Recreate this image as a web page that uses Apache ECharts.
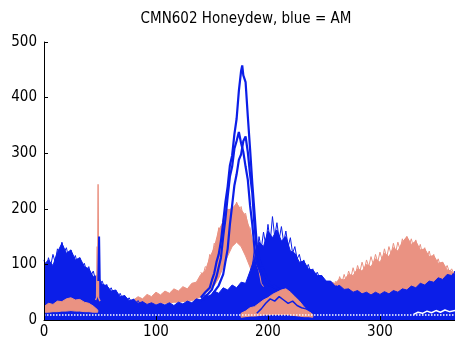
<!DOCTYPE html>
<html>
<head>
<meta charset="utf-8">
<script src="https://cdn.jsdelivr.net/npm/echarts@6/dist/echarts.min.js"></script>
<style>html,body{margin:0;padding:0;background:#fff}#c{width:455px;height:341px}</style>
</head>
<body>
<div id="c"></div>
<script>
// ---------- data ----------
const titleText = 'CMN602 Honeydew, blue = AM';
const xTicks = [0, 100, 200, 300];
const yTicks = [0, 100, 200, 300, 400, 500];

// Blue (AM) dense band: upper envelope, from 0
const blueX = [0,4,8,12,16,20,24,28,32,36,40,44,48,52,56,60,64,68,72,76,80,84,88,92,96,100,104,108,112,116,120,124,128,132,136,140,144,148,152,156,160,164,168,172,176,180,184,188,192,196,200,204,208,212,216,220,224,228,232,236,240,244,248,252,256,260,264,268,272,276,280,284,288,292,296,300,304,308,312,316,320,324,328,332,336,340,344,348,352,356,360,364,367];
const blueTop = [100,108,98,122,138,120,126,108,112,96,92,78,80,64,62,52,54,42,44,35,37,30,33,28,31,27,30,27,31,26,32,29,34,31,38,36,45,42,52,48,58,54,63,58,68,66,88,112,140,132,160,148,162,142,150,124,120,104,106,92,90,80,80,70,70,61,62,55,56,50,53,47,50,45,50,46,51,47,53,50,56,54,61,58,66,63,70,68,76,73,82,80,88];

// Blue noisy spikes along the top of the band
const blueSpikeLX = [0,2,4,6,8,10,12,14,16,18,20,22,24,26,28,30,32,34,36,38,40,42,44,46,48,50,52,54,56,58,60,62,64,66,68,70,72,74,76,78,80,82,84,86,88,90];
const blueSpikeLY = [108,92,112,98,118,104,128,118,140,122,130,112,126,106,116,100,112,94,102,88,96,80,88,72,80,66,70,58,64,52,58,48,54,42,48,38,44,34,40,32,38,30,35,28,33,27];
const blueSpikeHX = [186,188,190,192,194,196,198,200,202,204,206,208,210,212,214,216,218,220,222,224,226,228,230,232,234,236,238,240,242,244,246,248,250];
const blueSpikeHY = [95,130,115,150,128,158,135,172,140,186,150,175,145,168,140,160,132,148,120,132,110,118,100,108,92,100,86,92,80,86,76,80,70];

// Salmon (PM) main band
const salmonX = [80,84,88,92,96,100,104,108,112,116,120,124,128,132,136,140,144,148,152,156,160,164,168,172,176,180,184,188,192,196,200,204,208,212,216,220,224,228,232,236,240,244,248,252,256,260,264,268,272,276,280,284,288,292,296,300,304,308,312,316,320,324,328,332,336,340,344,348,352,356,360,364,367];
const salmonTop = [36,42,38,46,42,50,45,52,48,56,52,60,56,66,68,82,88,112,130,162,176,198,200,210,198,188,160,125,82,58,50,52,55,52,56,54,58,56,60,58,62,60,64,62,68,66,74,72,82,80,92,88,100,96,110,104,120,114,130,124,140,150,136,142,126,128,114,116,102,104,90,88,80];
const salmonLow = [25,26,27,28,28,29,30,30,30,32,32,33,34,35,38,42,48,55,62,75,95,115,132,140,132,115,95,70,45,30,20,30,30,30,30,30,30,30,30,30,30,30,30,30,30,30,30,30,30,30,30,30,30,30,30,30,30,30,30,30,30,30,30,30,30,30,30,30,30,30,30,30,30];

// Salmon noisy spikes
const salSpikePX = [140,142,144,146,148,150,152,154,156,158,160,162,164,166,168,170,172,174,176,178,180,182,184,186,188,190,192,194,196];
const salSpikePY = [86,80,96,92,118,112,138,132,166,160,182,176,200,192,206,198,212,200,204,186,192,170,166,140,130,100,88,66,60];
const salSpikeRX = [260,262,264,266,268,270,272,274,276,278,280,282,284,286,288,290,292,294,296,298,300,302,304,306,308,310,312,314,316,318,320,322,324,326,328,330,332,334,336,338,340,342,344,346,348,350,352,354,356,358,360,362,364,366];
const salSpikeRY = [70,62,78,66,82,70,88,76,94,80,98,86,104,90,108,96,114,100,118,104,122,108,128,112,132,118,138,122,140,126,146,130,150,134,146,130,144,124,136,118,130,112,124,106,118,100,110,96,104,90,98,86,92,84];

// Salmon low hump on the left
const s1X = [0,4,8,12,16,20,24,28,32,36,40,44,48];
const s1Top = [24,30,28,34,33,38,40,36,37,32,30,25,18];
const s1Low = [14,14,15,15,16,16,17,16,16,15,15,14,14];

// Salmon low hump under the second blue hump
const s3X = [176,180,184,188,192,196,200,204,208,212,216,220,224,228,232,236,240];
const s3Top = [12,16,22,24,30,36,40,46,50,54,56,50,42,34,24,16,10];
const s3Low = [5,6,7,7,8,9,10,10,10,10,10,9,8,7,6,6,5];

// Blue low line over that hump
const blueLowX = [190,194,198,202,206,210,214,218,222,226,230,234,238,242,246,250,254,258];
const blueLowY = [12,20,30,38,34,42,36,30,34,26,22,20,16,14,12,10,8,8];

// Tall blue (AM) peaks
const p1X = [140,144,148,150,152,154,156,158,160,162,164,166,168,170,172,174,176,177,178,180,182,184,186,188,190,192,194,196,198,200,204,210];
const p1Y = [40,50,58,72,84,104,118,142,176,212,240,278,296,334,362,412,448,458,440,428,366,308,246,192,136,112,100,92,80,72,60,55];
const p2X = [140,146,150,154,158,160,162,164,166,168,170,172,174,176,178,180,182,184,186,188,190,194,200,210];
const p2Y = [35,46,55,78,112,150,182,222,258,276,308,322,338,318,302,276,252,206,172,128,102,82,64,55];
const p3X = [140,150,156,160,164,166,168,170,172,174,176,178,180,182,184,186,188,190,194,200,210];
const p3Y = [35,45,62,82,128,172,206,242,262,288,298,322,330,302,262,228,168,124,96,70,55];

// Narrow spikes near x = 48
const spikeRX = [46,47,47.5,48,48.3,48.7,50];
const spikeRY = [36,40,132,42,244,40,34];
const spikeBX = [48.5,49.2,49.8];
const spikeBY = [70,150,70];

// White gaps near the bottom
const white1X = [0,367];
const white1Y = [9,9];
const white2X = [330,334,338,342,346,350,354,358,362,367];
const white2Y = [10,14,12,16,13,17,14,18,15,17];

// ---------- styling ----------
const BLUE = '#0b1ee8';
const SALMON = '#ea9282';
const FONT = "'Liberation Sans Narrow','Arial Narrow','DejaVu Sans Condensed',sans-serif";

const pairs = (xs, ys) => xs.map((x, i) => [x, ys[i]]);

// filled band between lo and hi, projected through the axes
function band(xs, lo, hi, color) {
  return {
    type: 'custom', silent: true, clip: true,
    data: [[xs[0], hi[0]]],
    renderItem: function (params, api) {
      const pts = [];
      for (let i = 0; i < xs.length; i++) pts.push(api.coord([xs[i], hi[i]]));
      for (let i = xs.length - 1; i >= 0; i--) pts.push(api.coord([xs[i], lo[i]]));
      return { type: 'polygon', shape: { points: pts },
        style: { fill: color, stroke: color, lineWidth: 1 } };
    }
  };
}
function line(xs, ys, color, width, type) {
  return { type: 'line', data: pairs(xs, ys), symbol: 'none', silent: true,
    lineStyle: { color: color, width: width, type: type || 'solid' } };
}

const zeros = blueX.map(() => 0);
const series = [
  band(salmonX, salmonLow, salmonTop, SALMON),
  line(salSpikePX, salSpikePY, SALMON, 1),
  line(salSpikeRX, salSpikeRY, SALMON, 1),
  band(blueX, zeros, blueTop, BLUE),
  line(blueSpikeLX, blueSpikeLY, BLUE, 1),
  line(blueSpikeHX, blueSpikeHY, BLUE, 1),
  band(s1X, s1Low, s1Top, SALMON),
  band(s3X, s3Low, s3Top, SALMON),
  line(blueLowX, blueLowY, BLUE, 1.5),
  line(white1X, white1Y, '#ffffff', 1.5, 'dotted'),
  line(white2X, white2Y, '#ffffff', 1.5),
  line(spikeRX, spikeRY, SALMON, 1.5),
  line(spikeBX, spikeBY, BLUE, 2),
  line(p1X, p1Y, BLUE, 2.2),
  line(p2X, p2Y, BLUE, 2.2),
  line(p3X, p3Y, BLUE, 2.2)
];

const chart = echarts.init(document.getElementById('c'), null, { renderer: 'canvas' });
chart.setOption({
  animation: false,
  backgroundColor: '#ffffff',
  title: {
    text: titleText, left: 246, top: 12, textAlign: 'center', padding: 0,
    textStyle: { fontFamily: FONT, fontSize: 15, fontWeight: 'normal', color: '#000' }
  },
  grid: { left: 44, right: 0, top: 42, bottom: 21, containLabel: false, outerBoundsMode: 'none' },
  xAxis: {
    type: 'value', min: 0, max: 367, interval: 100, z: 10,
    axisLine: { show: true, lineStyle: { color: '#000', width: 1 } },
    axisTick: { show: true, inside: true, length: 4, lineStyle: { color: '#000' } },
    axisLabel: { fontFamily: FONT, fontSize: 15, color: '#000', margin: 5, hideOverlap: false,
      formatter: function (v) { return xTicks.indexOf(v) >= 0 ? String(v) : ''; } },
    splitLine: { show: false }
  },
  yAxis: {
    type: 'value', min: 0, max: 500, interval: 100, z: 10,
    axisLine: { show: true, lineStyle: { color: '#000', width: 1 } },
    axisTick: { show: true, inside: true, length: 4, lineStyle: { color: '#000' } },
    axisLabel: { fontFamily: FONT, fontSize: 15, color: '#000', margin: 7,
      formatter: function (v) { return yTicks.indexOf(v) >= 0 ? String(v) : ''; } },
    splitLine: { show: false }
  },
  series: series
});
</script>
</body>
</html>
